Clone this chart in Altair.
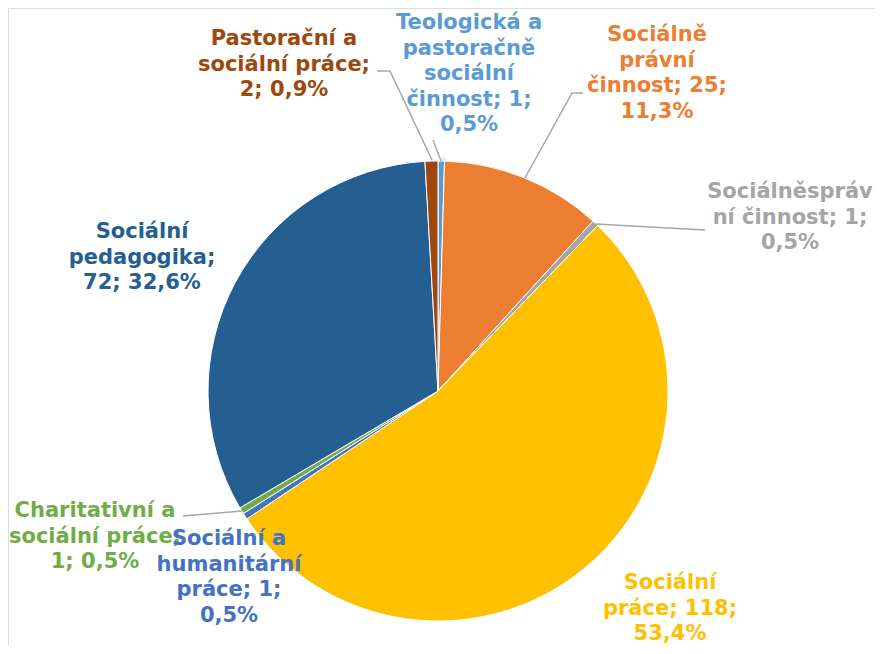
import altair as alt
import pandas as pd

# ---- data ----
CATEGORIES = [
    "Teologická a pastoračně sociální činnost",
    "Sociálně právní činnost",
    "Sociálněsprávní činnost",
    "Sociální práce",
    "Sociální a humanitární práce",
    "Charitativní a sociální práce",
    "Sociální pedagogika",
    "Pastorační a sociální práce",
]
VALUES = [1, 25, 1, 118, 1, 1, 72, 2]
LABELS = [
    "Teologická a\npastoračně\nsociální\nčinnost; 1;\n0,5%",
    "Sociálně\nprávní\nčinnost; 25;\n11,3%",
    "Sociálněspráv\nní činnost; 1;\n0,5%",
    "Sociální\npráce; 118;\n53,4%",
    "Sociální a\nhumanitární\npráce; 1;\n0,5%",
    "Charitativní a\nsociální práce;\n1; 0,5%",
    "Sociální\npedagogika;\n72; 32,6%",
    "Pastorační a\nsociální práce;\n2; 0,9%",
]
COLORS = ["#5B9BD5", "#ED7D31", "#A5A5A5", "#FFC000", "#4472C4", "#70AD47", "#255E91", "#9E480E"]

# ---- layout (pixels in plot area, origin = page (8,8)); y = centre of first line ----
CX, CY, R = 430, 383, 230
LABEL_X = [461, 649, 782, 662, 221, 87, 134, 276]
LABEL_Y = [15, 27, 184, 575, 531, 503, 224, 31]
LABEL_DRAW_ORDER = [0, 1, 2, 3, 5, 4, 6, 7]
LEADERS = [  # (label index, list of points)
    (0, [(425, 132), (433, 153)]),
    (1, [(575, 85), (564, 85), (517, 170)]),
    (2, [(697, 222), (588, 216)]),
    (5, [(175, 508), (234, 503)]),
    (7, [(369, 63), (382, 63), (424, 152)]),
]

df = pd.DataFrame({"cat": CATEGORIES, "value": VALUES, "idx": list(range(len(VALUES)))})

color_scale = alt.Scale(domain=CATEGORIES, range=COLORS)

# soft shadow (stacked translucent discs, offset down-right)
shadow_layers = []
for grow, op in [(9, 0.02), (7, 0.03), (5, 0.035), (3, 0.04), (1, 0.05)]:
    shadow_layers.append(
        alt.Chart(pd.DataFrame({"v": [1]}))
        .mark_arc(radius=R + grow, color="#000000", opacity=op)
        .encode(theta=alt.Theta("v:Q"), x=alt.value(CX + 2), y=alt.value(CY + 3))
    )

pie = (
    alt.Chart(df)
    .mark_arc(radius=R, stroke="white", strokeWidth=1)
    .encode(
        theta=alt.Theta("value:Q", stack=True),
        order=alt.Order("idx:Q"),
        color=alt.Color("cat:N", scale=color_scale, legend=None),
        x=alt.value(CX),
        y=alt.value(CY),
    )
)

lab_rows = []
for i in LABEL_DRAW_ORDER:
    lab_rows.append({"o": len(lab_rows), "t": LABELS[i], "lx": LABEL_X[i], "ly": LABEL_Y[i], "c": COLORS[i]})
lab_df = pd.DataFrame(lab_rows)

labels = (
    alt.Chart(lab_df)
    .mark_text(lineBreak="\n", font="DejaVu Sans", fontWeight="bold", fontSize=21,
               lineHeight=25.5, align="center", baseline="middle")
    .encode(
        x=alt.X("lx:Q", scale=None),
        y=alt.Y("ly:Q", scale=None),
        text="t:N",
        color=alt.Color("c:N", scale=None),
        order=alt.Order("o:Q"),
    )
)

line_rows = []
for li, pts in LEADERS:
    for j, (px, py) in enumerate(pts):
        line_rows.append({"line": li, "j": j, "px": px, "py": py})
line_df = pd.DataFrame(line_rows)

leaders = (
    alt.Chart(line_df)
    .mark_line(color="#A6A6A6", strokeWidth=1.5)
    .encode(
        x=alt.X("px:Q", scale=None),
        y=alt.Y("py:Q", scale=None),
        detail="line:N",
        order="j:Q",
    )
)

chart = (
    alt.layer(*shadow_layers, pie, leaders, labels)
    .properties(width=867, height=638, padding=0, autosize=alt.AutoSizeParams(type="none"))
    .configure_view(strokeWidth=0, stroke="transparent")
    .configure(background="white")
)

chart.save("out.html", embed_options={"renderer": "svg", "actions": False})
